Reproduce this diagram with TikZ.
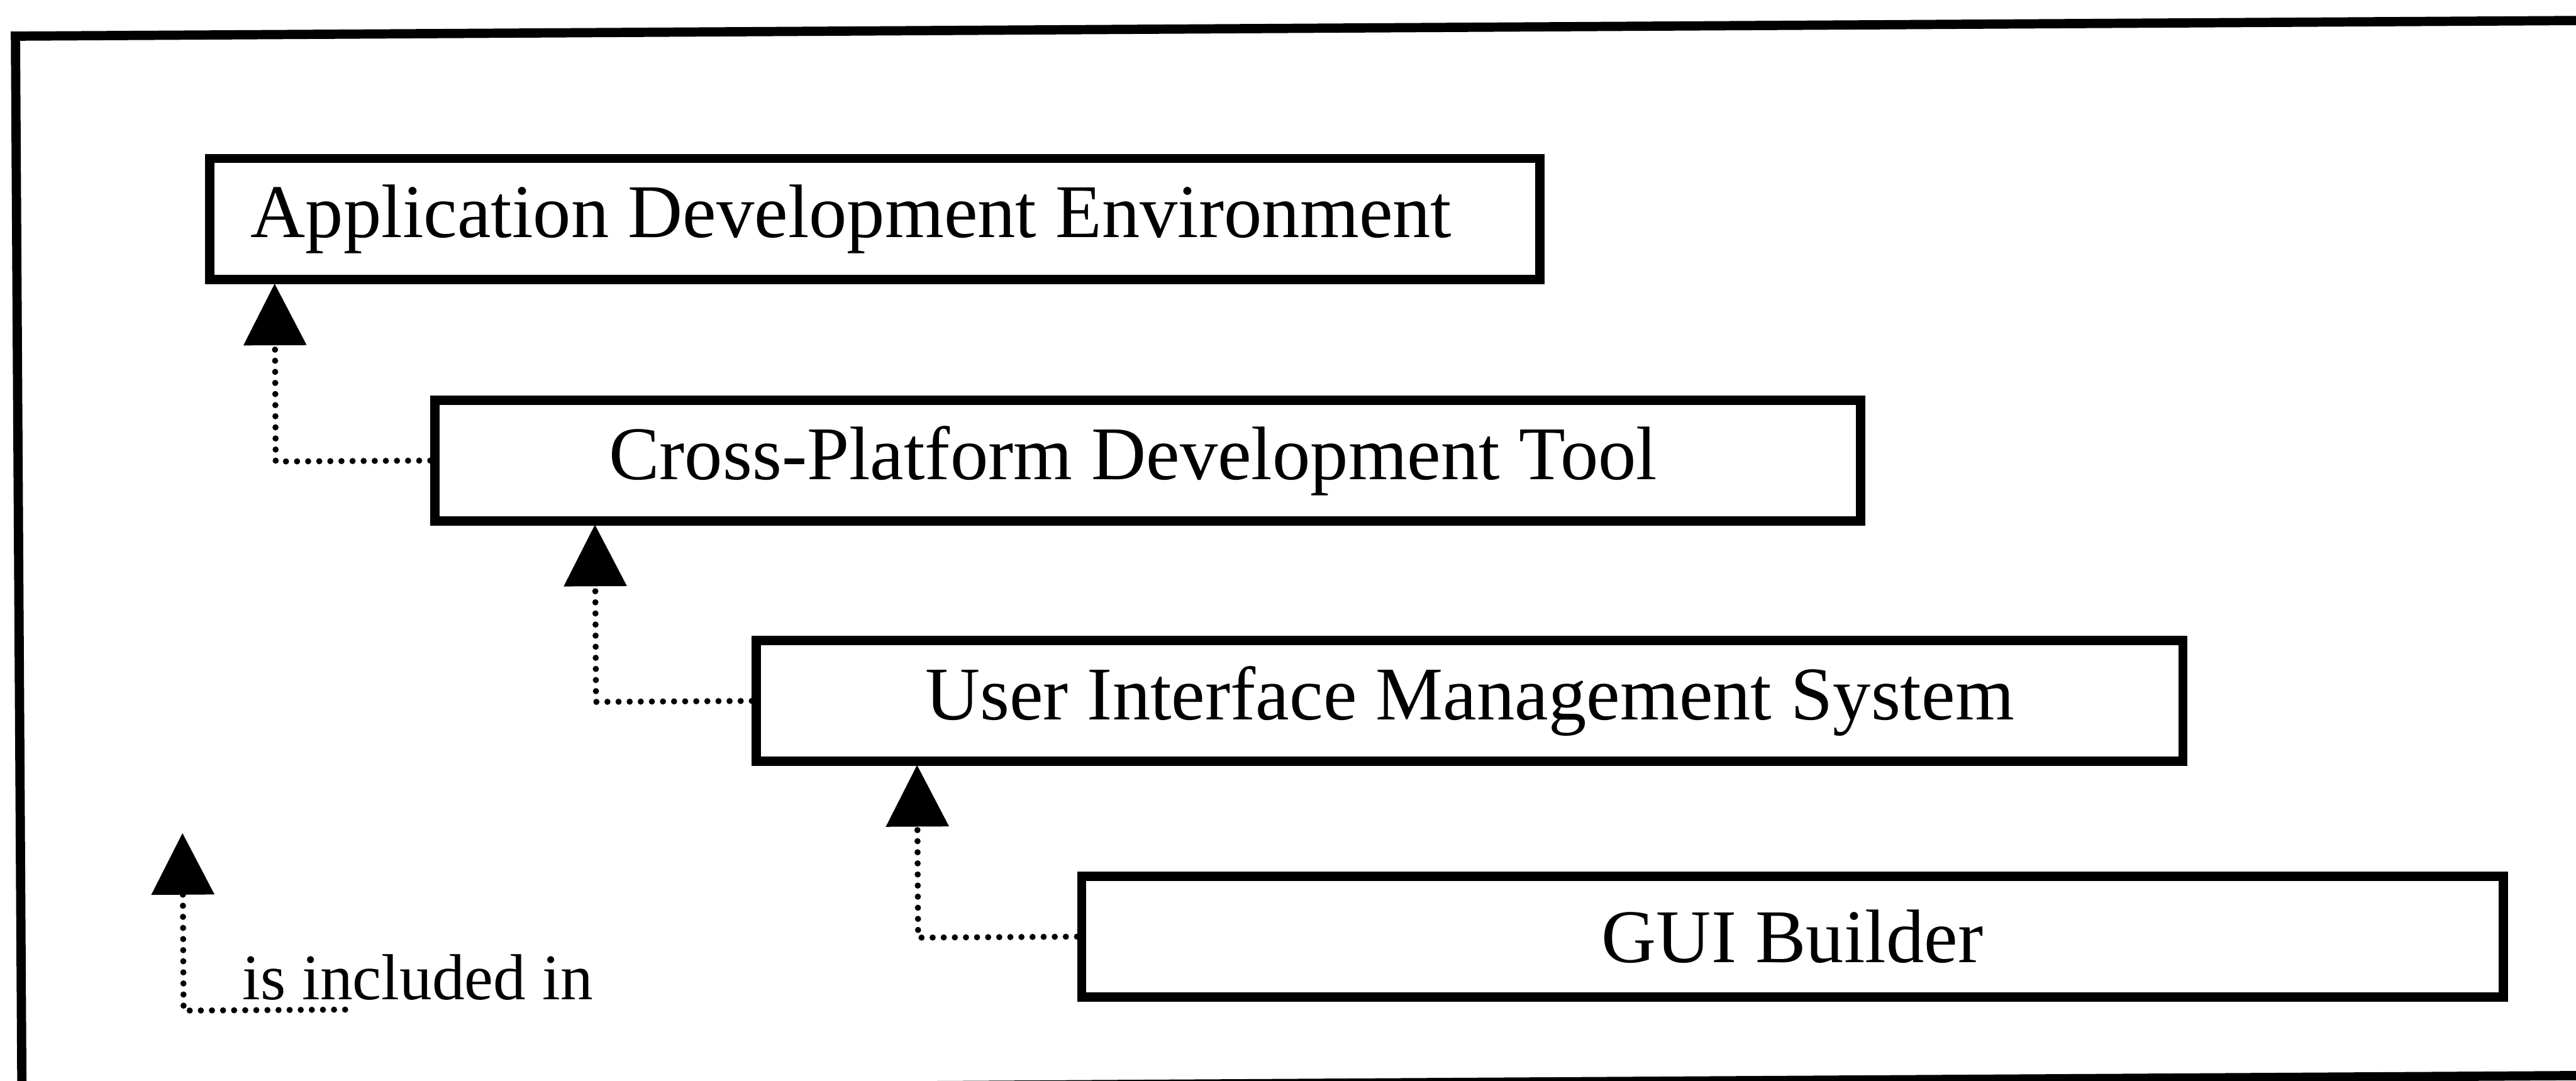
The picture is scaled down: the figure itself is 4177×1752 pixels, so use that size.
\documentclass[tikz,border=0pt]{standalone}
\usepackage{fontspec}
\setmainfont{Liberation Serif}
\usetikzlibrary{arrows.meta}
\begin{document}
\begin{tikzpicture}[x=0.1mm, y=-0.1mm,
  layer/.style={draw, line width=1.5mm, minimum height=19.6mm, inner sep=0pt,
    font=\fontsize{35}{40}\selectfont},
  incl/.style={line width=1.0mm, line cap=round, dash pattern=on 0pt off 1.8mm,
    -{Triangle[length=10mm, width=10mm]}},
  frameline/.style={line width=1.5mm}
]
\useasboundingbox (0,0) rectangle (4177,1752);
\clip (0,0) rectangle (4177,1752);
\begin{scope}[rotate around={0.35:(2088,876)}]
  % open outer frame
  \draw[frameline] (4400,46) -- (30,46) -- (30,1757) -- (4400,1757);

  % nested layers
  \node[layer, minimum width=215.7mm] (ade)  at (1421.5,351)  {\hspace{-7.6mm}Application Development Environment};
  \node[layer, minimum width=231.2mm] (cpdt) at (1862,745.5)  {\hspace{-4.8mm}Cross-Platform Development Tool};
  \node[layer, minimum width=231.3mm] (uims) at (2381.5,1138.5) {User Interface Management System};
  \node[layer, minimum width=230.5mm] (gui)  at (2902.5,1524) {GUI Builder};

  % "is included in" connectors
  \draw[incl] (cpdt.west) -| ([xshift=11.3mm]ade.south west);
  \draw[incl] (uims.west) -| ([xshift=26.7mm]cpdt.south west);
  \draw[incl] (gui.west)  -| ([xshift=26.8mm]uims.south west);

  % legend
  \coordinate (lgtip) at (293,1340);
  \coordinate (lgend) at (555,1628);
  \draw[incl] (lgend) -| (lgtip);
  \node[anchor=base west, inner sep=0pt, font=\fontsize{30}{36}\selectfont] (lgtext) at (388,1611) {is included in};
\end{scope}
\end{tikzpicture}
\end{document}
